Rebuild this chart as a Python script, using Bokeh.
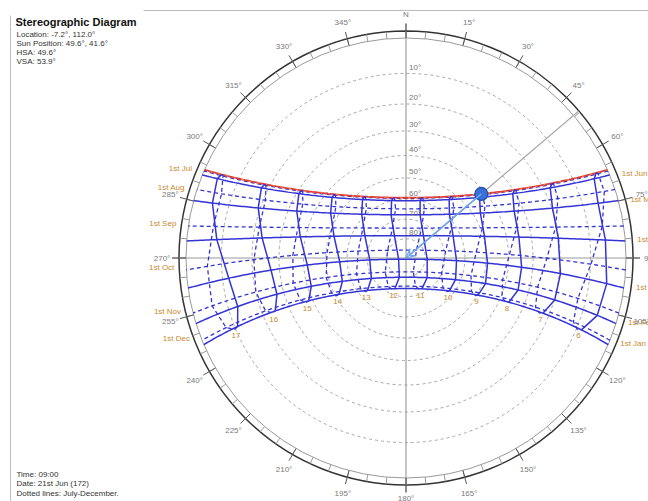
import numpy as np
from bokeh.plotting import figure
from bokeh.models import Range1d, Arrow, VeeHead
from bokeh.core.properties import value
from bokeh.embed import file_html
from bokeh.resources import INLINE

# ---------------- data ----------------
LATITUDE = -7.2
LONGITUDE = 112.0
TZ_MERIDIAN = 105.0

MONTH_LABELS = ["1st Jan", "1st Feb", "1st Mar", "1st Apr", "1st May", "1st Jun",
                "1st Jul", "1st Aug", "1st Sep", "1st Oct", "1st Nov", "1st Dec"]
MONTH_DECLINATION = [-23.0, -17.2, -7.8, 4.4, 15.0, 22.0, 23.1, 18.0, 8.3, -3.1, -14.4, -21.8]
MONTH_EOT_MIN = [-3.2, -13.6, -12.5, -4.0, 2.9, 2.3, -3.7, -6.3, -0.1, 10.2, 16.4, 11.0]

JUN21_DECLINATION = 23.44
JUN21_EOT_MIN = -1.6
DEC21_DECLINATION = -23.44
DEC21_EOT_MIN = 1.8

HOURS = [6, 7, 8, 9, 10, 11, 12, 13, 14, 15, 16, 17]
ALTITUDE_RINGS = [10, 20, 30, 40, 50, 60, 70, 80]
AZIMUTH_LABEL_ANGLES = [0, 15, 30, 45, 60, 75, 90, 105, 120, 135, 150, 165,
                        180, 195, 210, 225, 240, 255, 270, 285, 300, 315, 330, 345]
AZIMUTH_LABELS = ["N", "15°", "30°", "45°", "60°", "75°", "90°", "105°", "120°", "135°",
                  "150°", "165°", "180°", "195°", "210°", "225°", "240°", "255°", "270°",
                  "285°", "300°", "315°", "330°", "345°"]

SUN_AZIMUTH = 49.6
SUN_ALTITUDE = 41.6

TITLE = "Stereographic Diagram"
INFO_LINES = ["Location: -7.2°, 112.0°", "Sun Position: 49.6°, 41.6°", "HSA: 49.6°", "VSA: 53.9°"]
FOOTER_LINES = ["Time: 09:00", "Date: 21st Jun (172)", "Dotted lines: July-December."]

# ---------------- geometry ----------------
CX, CY, R = 405.5, 257.5, 220.0
FONT = value("Liberation Sans")
BLUE = "#3434d6"
ORANGE = "#c98a2e"
GREY_TXT = "#7a7a7a"


def page(x, y):
    return np.asarray(x, dtype=float), -np.asarray(y, dtype=float)


def proj_azalt(az, alt):
    az = np.radians(az)
    r = R * np.tan(np.radians(90.0 - np.asarray(alt, dtype=float)) / 2.0)
    return page(CX + r * np.sin(az), CY - r * np.cos(az))


def polar(az, r):
    az = np.radians(np.asarray(az, dtype=float))
    return page(CX + r * np.sin(az), CY - r * np.cos(az))


def sun_xy(dec, H):
    phi, d, h = np.radians(LATITUDE), np.radians(dec), np.radians(H)
    e = -np.cos(d) * np.sin(h)
    n = np.cos(phi) * np.sin(d) - np.sin(phi) * np.cos(d) * np.cos(h)
    u = np.sin(phi) * np.sin(d) + np.cos(phi) * np.cos(d) * np.cos(h)
    k = R / (1.0 + u)
    x, y = page(CX + k * e, CY - k * n)
    return x, y, u


def path_xy(dec, n=240):
    h0 = np.degrees(np.arccos(-np.tan(np.radians(LATITUDE)) * np.tan(np.radians(dec))))
    H = np.linspace(-h0, h0, n)
    x, y, _ = sun_xy(dec, H)
    return x, y


def hour_angle(hour, eot):
    solar = hour + (LONGITUDE - TZ_MERIDIAN) / 15.0 + eot / 60.0
    return 15.0 * (solar - 12.0)


p = figure(width=648, height=501, output_backend="svg", toolbar_location=None,
           x_range=Range1d(0, 648), y_range=Range1d(-501, 0),
           min_border=0, outline_line_color=None)
p.axis.visible = False
p.grid.visible = False
p.background_fill_color = "white"

# panel frame lines
p.line(*page([10, 10], [15, 501]), line_color="#bdbdbd", line_width=1)
p.line(*page([143, 648], [10, 10]), line_color="#bdbdbd", line_width=1)

# altitude rings
ring_r = R * np.tan(np.radians(90.0 - np.array(ALTITUDE_RINGS)) / 2.0)
p.circle(x=[CX] * len(ring_r), y=[-CY] * len(ring_r), radius=list(ring_r),
         fill_color=None, line_color="#a8a8a8", line_dash="3 3", line_width=1)

# N-S / E-W lines
p.line(*page([CX, CX], [CY - 235, CY + 235]), line_color="#8c8c8c", line_width=1)
p.line(*page([CX - 234, CX + 234], [CY, CY]), line_color="#9a9a9a", line_width=1.2)

# outer ring
p.circle(x=[CX], y=[-CY], radius=[R], fill_color=None, line_color="#9a9a9a", line_width=1)
p.circle(x=[CX], y=[-CY], radius=[R + 7], fill_color=None, line_color="#333333", line_width=1.5)
minor = np.arange(0, 360, 5)
x0, y0 = polar(minor, R)
x1, y1 = polar(minor, R + 7)
p.segment(x0, y0, x1, y1, line_color="#9a9a9a", line_width=1)
major = np.array(AZIMUTH_LABEL_ANGLES)
x0, y0 = polar(major, R)
x1, y1 = polar(major, R + 14)
p.segment(x0, y0, x1, y1, line_color="#555555", line_width=1)

# azimuth line of the sun
ax_, ay_ = polar([0, SUN_AZIMUTH], np.array([0.0, R + 7]))
p.line(ax_, ay_, line_color="#a0a0a0", line_width=1.2)

# sun paths
for i, dec in enumerate(MONTH_DECLINATION):
    x, y = path_xy(dec)
    if i < 6:
        p.line(x, y, line_color=BLUE, line_width=1.5)
    else:
        p.line(x, y, line_color=BLUE, line_width=1.3, line_dash="4 3")

# current date path (21st Jun)
xj, yj = path_xy(JUN21_DECLINATION)
p.line(xj, yj, line_color="#e03a3a", line_width=1.8)
p.line(xj, yj, line_color="#d9a040", line_width=1, line_dash="2 6")

# hour lines
solid_decs = MONTH_DECLINATION[0:6] + [JUN21_DECLINATION]
solid_eots = MONTH_EOT_MIN[0:6] + [JUN21_EOT_MIN]
dot_decs = [JUN21_DECLINATION] + MONTH_DECLINATION[6:12] + [DEC21_DECLINATION, MONTH_DECLINATION[0]]
dot_eots = [JUN21_EOT_MIN] + MONTH_EOT_MIN[6:12] + [DEC21_EOT_MIN, MONTH_EOT_MIN[0]]
lab_x, lab_y, lab_t = [], [], []
for hr in HOURS:
    for decs, eots, dash, lw in ((solid_decs, solid_eots, "solid", 1.5), (dot_decs, dot_eots, "4 3", 1.3)):
        H = np.array([hour_angle(hr, e) for e in eots])
        x, y, u = sun_xy(np.array(decs), H)
        keep = u >= 0
        p.line(x[keep], y[keep], line_color=BLUE, line_width=lw, line_dash=dash)
    hx, hy, _ = sun_xy(DEC21_DECLINATION, hour_angle(hr, DEC21_EOT_MIN))
    lab_x.append(float(hx) + 1)
    lab_y.append(float(hy) - 6)
    lab_t.append(str(hr))
p.text(lab_x, lab_y, text=lab_t, text_font=FONT, text_font_size="8px", text_color=ORANGE,
       text_align="center", text_baseline="middle")

# month labels
rx, ry, rt, lx, ly, lt = [], [], [], [], [], []
for i, dec in enumerate(MONTH_DECLINATION):
    x, y = path_xy(dec)
    if i < 6:
        rx.append(float(x[0]) + 12); ry.append(float(y[0]) + 1); rt.append(MONTH_LABELS[i])
    else:
        lx.append(float(x[-1]) - 12); ly.append(float(y[-1]) + 2); lt.append(MONTH_LABELS[i])
p.text(rx, ry, text=rt, text_font=FONT, text_font_size="8px", text_color=ORANGE,
       text_align="left", text_baseline="middle")
p.text(lx, ly, text=lt, text_font=FONT, text_font_size="8px", text_color=ORANGE,
       text_align="right", text_baseline="middle")

# sun -> centre arrow and sun dot
sx, sy = proj_azalt(SUN_AZIMUTH, SUN_ALTITUDE)
p.add_layout(Arrow(end=VeeHead(size=9, line_color="#6aa6f0", fill_color=None, line_width=1.2),
                   x_start=float(sx), y_start=float(sy), x_end=CX, y_end=-CY,
                   line_color="#6aa6f0", line_width=1.5))
p.scatter([float(sx)], [float(sy)], size=13, fill_color="#3b6fd6", line_color="#1f4fb0", line_width=1.2)

# azimuth labels
alx, aly = polar(major, 244.0)
aly = np.where(major == 180, -498.0, aly)
p.text(list(alx), list(aly), text=AZIMUTH_LABELS, text_font=FONT, text_font_size="8px",
       text_color=GREY_TXT, text_align="center", text_baseline="middle")

# altitude labels
p.text([CX + 3] * len(ring_r), list(-(CY - ring_r) + 6),
       text=[f"{a}°" for a in ALTITUDE_RINGS], text_font=FONT, text_font_size="8px",
       text_color=GREY_TXT, text_align="left", text_baseline="middle")

# info texts
p.text([15], [-21], text=[TITLE], text_font=FONT, text_font_size="11px", text_font_style="bold",
       text_color="#111111", text_align="left", text_baseline="middle")
p.text([16] * 4, [-34.3, -43.3, -52.2, -61.2], text=INFO_LINES, text_font=FONT, text_font_size="8px",
       text_color="#333333", text_align="left", text_baseline="middle")
p.text([16] * 3, [-474, -483.3, -492.5], text=FOOTER_LINES, text_font=FONT, text_font_size="8px",
       text_color="#333333", text_align="left", text_baseline="middle")

open("out.html", "w").write(file_html(p, INLINE))
